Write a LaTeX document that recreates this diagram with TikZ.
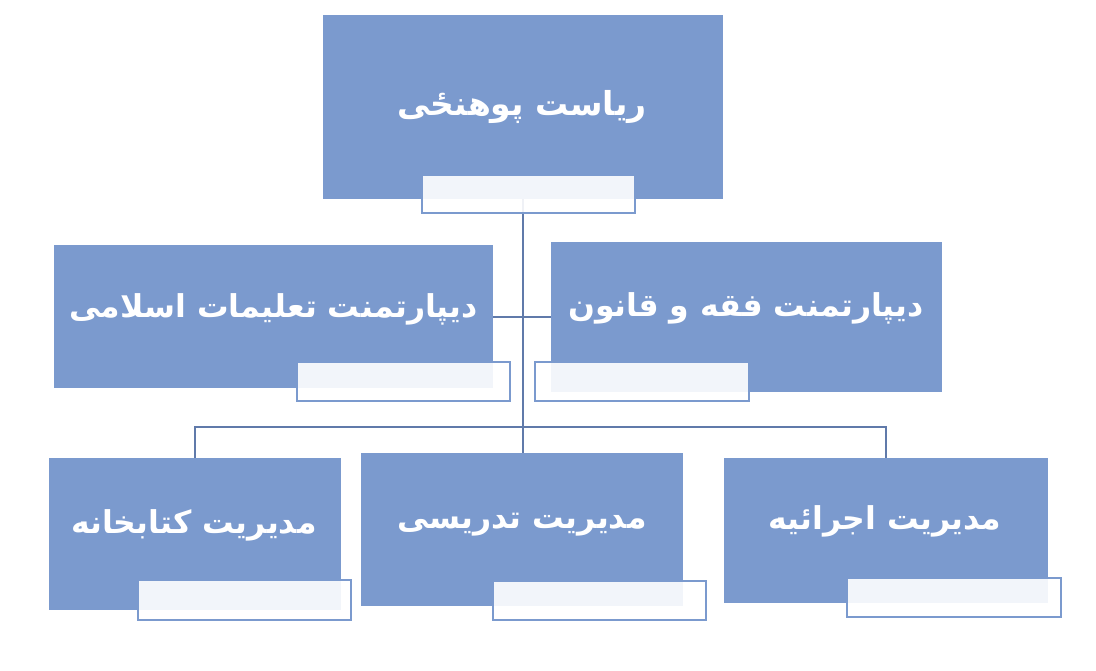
\documentclass[tikz,border=0pt]{standalone}
\usepackage{fontspec}
\newfontfamily\arabicfont[Script=Arabic]{DejaVu Sans}
\TeXXeTstate=1
\definecolor{boxblue}{RGB}{123,154,206}
\definecolor{linkblue}{RGB}{96,122,170}
\begin{document}
\begin{tikzpicture}[x=1pt,y=-1pt,
  mainbox/.style={draw=none,fill=boxblue,inner sep=0pt,outer sep=0pt,anchor=north west,rectangle},
  subbox/.style={draw=boxblue,line width=2pt,fill=white,fill opacity=0.9,inner sep=0pt,outer sep=0pt,anchor=north west,rectangle},
  link/.style={draw=linkblue,line width=2pt},
  lbl/.style={text=white,font=\arabicfont\bfseries\fontsize{31.5}{36}\selectfont,anchor=base,inner sep=0pt},
  toplbl/.style={lbl,font=\arabicfont\bfseries\fontsize{33}{38}\selectfont}]
\fill[white] (0,0) rectangle (1096,670);
\useasboundingbox (0,0) rectangle (1096,670);
% main boxes
\node[mainbox,minimum width=400pt,minimum height=184pt] (top) at (323,15) {};
\node[mainbox,minimum width=439pt,minimum height=143pt] (lm) at (54,245) {};
\node[mainbox,minimum width=391pt,minimum height=150pt] (rm) at (551,242) {};
\node[mainbox,minimum width=292pt,minimum height=152pt] (bl) at (49,458) {};
\node[mainbox,minimum width=322pt,minimum height=153pt] (bm) at (361,453) {};
\node[mainbox,minimum width=324pt,minimum height=145pt] (br) at (724,458) {};
% connectors
\draw[link] (top.south) -- (top.south |- bm.north);
\draw[link] (lm.east) -- (lm.east -| rm.west);
\draw[link] (bl.north) -- ++(0,-31) -| (br.north);
% sub boxes
\node[subbox,minimum width=213.5pt,minimum height=38pt] (tops) at (421.5,175) {};
\node[subbox,minimum width=213.5pt,minimum height=39.5pt] (lms) at (296.7,361.7) {};
\node[subbox,minimum width=213.5pt,minimum height=39pt] (rms) at (535.3,362.3) {};
\node[subbox,minimum width=213.5pt,minimum height=39.5pt] (bls) at (137.7,580.3) {};
\node[subbox,minimum width=213.5pt,minimum height=39pt] (bms) at (492.7,581) {};
\node[subbox,minimum width=214.5pt,minimum height=39.5pt] (brs) at (846.7,577.7) {};
% labels
\node[toplbl] (toptxt) at (522,115) {\beginR ریاست پوهنځی\endR};
\node[lbl] (lmtxt) at (273.5,317) {\beginR دیپارتمنت تعلیمات اسلامی\endR};
\node[lbl] (rmtxt) at (746,316) {\beginR دیپارتمنت فقه و قانون\endR};
\node[lbl] (bltxt) at (194,533) {\beginR مدیریت کتابخانه\endR};
\node[lbl] (bmtxt) at (522,528) {\beginR مدیریت تدریسی\endR};
\node[lbl] (brtxt) at (885,529) {\beginR مدیریت اجرائیه\endR};
\end{tikzpicture}
\end{document}
